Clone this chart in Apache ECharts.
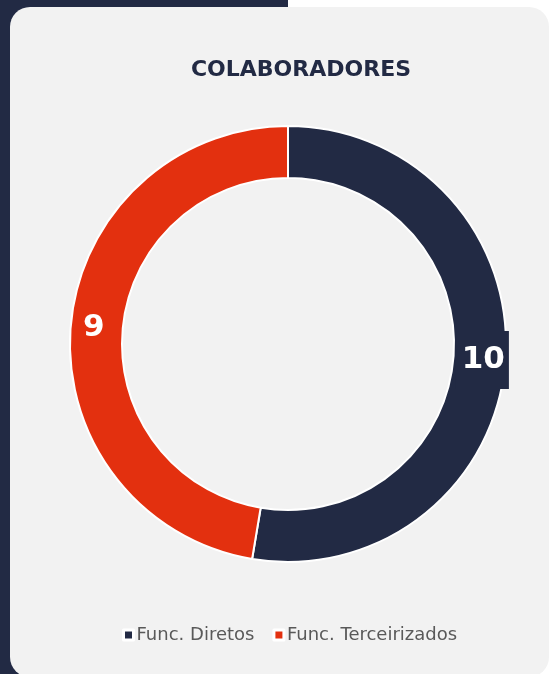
<!DOCTYPE html>
<html>
<head>
<meta charset="utf-8">
<script src="https://cdn.jsdelivr.net/npm/echarts@6/dist/echarts.min.js"></script>
<style>
  html, body { margin: 0; padding: 0; width: 551px; height: 674px; overflow: hidden; background: #ffffff; }
  #side { position: absolute; left: 0; top: 0; width: 288px; height: 674px; background: #222a44; }
  #side2 { position: absolute; left: 0; top: 0; width: 10px; height: 674px; background: #222a44; }
  #card { position: absolute; left: 10px; top: 7px; width: 539px; height: 670px; background: #f2f2f2; border-radius: 20px; }
  #chart { position: absolute; left: 0; top: 0; width: 551px; height: 674px; }
</style>
</head>
<body>
<div id="side"></div>
<div id="side2"></div>
<div id="card"></div>
<div id="chart"></div>
<script>
// colaboradores por tipo de contrato
const categorias = ['Func. Diretos', 'Func. Terceirizados'];
const quantidades = [10, 9];
const cores = ['#222a44', '#e3300f'];

function renderChart() {
  const dom = document.getElementById('chart');
  const chart = echarts.init(dom);
  const dados = categorias.map((nome, i) => ({
    name: nome,
    value: quantidades[i],
    itemStyle: { color: cores[i] },
    label: i === 0 ? { backgroundColor: cores[0], padding: [14, 4, 14, 6] } : {}
  }));
  const option = {
    animation: false,
    title: {
      text: 'COLABORADORES',
      left: 296,
      top: 54,
      textAlign: 'center',
      textStyle: {
        color: '#222a44',
        fontSize: 22,
        fontWeight: 'bold',
        fontFamily: 'DejaVu Sans'
      }
    },
    legend: {
      data: categorias,
      left: 117,
      top: 621,
      icon: 'rect',
      itemWidth: 10,
      itemHeight: 10,
      itemGap: 18,
      itemStyle: { borderColor: '#ffffff', borderWidth: 3 },
      textStyle: {
        color: '#595959',
        fontSize: 18,
        fontFamily: 'DejaVu Sans',
        padding: [0, 0, 0, -2]
      }
    },
    series: [
      {
        type: 'pie',
        center: [288, 344],
        radius: [166, 218],
        startAngle: 90,
        clockwise: true,
        itemStyle: { borderColor: '#ffffff', borderWidth: 2 },
        label: {
          show: true,
          position: 'inside',
          formatter: '{c}',
          color: '#ffffff',
          fontSize: 31,
          lineHeight: 30,
          fontWeight: 'bold',
          fontFamily: 'DejaVu Sans'
        },
        labelLine: { show: false },
        emphasis: { disabled: true },
        data: dados
      }
    ]
  };
  chart.setOption(option, true);
}
renderChart();
</script>
</body>
</html>
